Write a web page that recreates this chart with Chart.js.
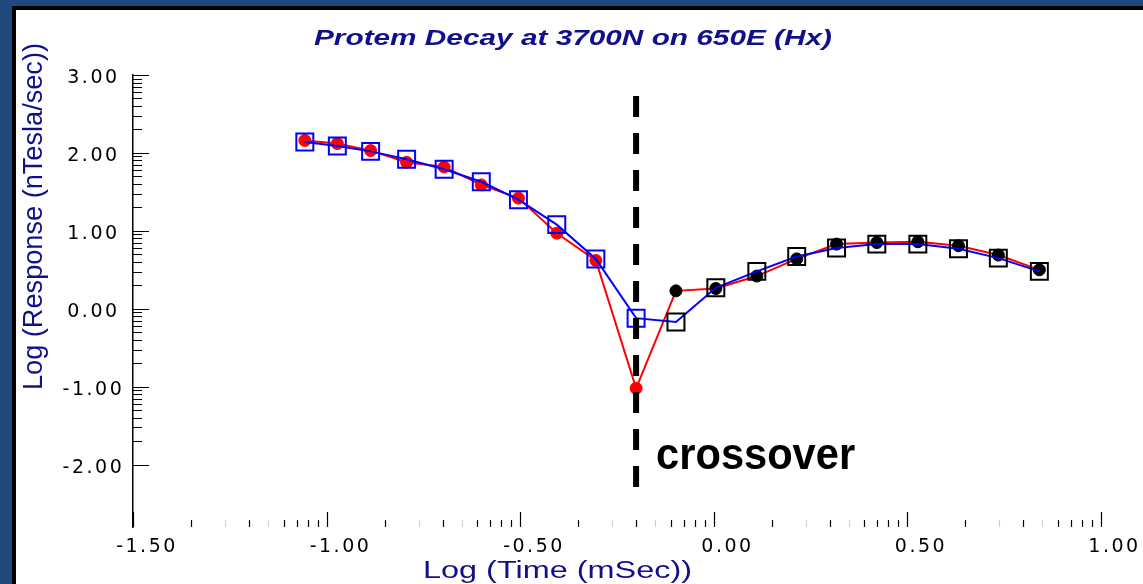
<!DOCTYPE html>
<html>
<head>
<meta charset="utf-8">
<script src="https://cdn.jsdelivr.net/npm/chart.js@4.4.1/dist/chart.umd.min.js"></script>
<style>
html,body{margin:0;padding:0;background:#1f497d;width:1143px;height:584px;overflow:hidden;}
#frame{position:absolute;left:12px;top:6px;width:1131px;height:578px;background:#000;}
#panel{position:absolute;left:4px;top:4px;width:1127px;height:574px;background:#fff;}
canvas{display:block;}
</style>
</head>
<body>
<div id="frame"><div id="panel"><canvas id="c" width="1127" height="574"></canvas></div></div>
<script>
// ---- text ----
const chartTitle = 'Protem Decay at 3700N on 650E (Hx)';
const xAxisTitle = 'Log (Time (mSec))';
const yAxisTitle = 'Log (Response (nTesla/sec))';
const annotationText = 'crossover';

// ---- data ----
const logTime   = [-1.056,-0.972,-0.886,-0.793,-0.696,-0.600,-0.504,-0.405,-0.304,-0.200,-0.097,0.006,0.112,0.215,0.318,0.422,0.528,0.633,0.736,0.842];
const hxSquares = [2.14,2.09,2.02,1.92,1.79,1.63,1.40,1.08,0.64,-0.12,-0.17,0.27,0.48,0.67,0.78,0.83,0.83,0.77,0.65,0.48];
const hxCircles = [2.16,2.12,2.03,1.88,1.82,1.59,1.42,0.97,0.62,-1.02,0.23,0.26,0.42,0.64,0.83,0.85,0.86,0.81,0.69,0.50];
const crossoverX = [-0.2, -0.2];
const crossoverY = [2.73, -2.29];

// ---- ticks ----
const xTickValues = [-1.5, -1.0, -0.5, 0.0, 0.5, 1.0];
const xTickLabels = ['-1.50', '-1.00', '-0.50', '0.00', '0.50', '1.00'];
const yTickValues = [-2, -1, 0, 1, 2, 3];
const yTickLabels = ['-2.00', '-1.00', '0.00', '1.00', '2.00', '3.00'];
const minorFactors = [2, 3, 4, 5, 6, 7, 8, 9];

const toPoints = ys => logTime.map((x, i) => ({ x: x, y: ys[i] }));
const lateTime = ctx => ctx.raw && ctx.raw.x > crossoverX[0];

const decorPlugin = {
  id: 'decor',
  beforeDraw(chart) { chart.ctx.letterSpacing = '2.5px'; },
  afterDraw(chart) {
    const ctx = chart.ctx;
    const xs = chart.scales.x, ys = chart.scales.y;
    const area = chart.chartArea;
    ctx.save();
    ctx.letterSpacing = '0px';
    // y tick marks (inside)
    ctx.lineWidth = 1.2;
    ctx.strokeStyle = '#000';
    ctx.beginPath();
    yTickValues.forEach(v => {
      const p = Math.round(ys.getPixelForValue(v)) + 0.5;
      ctx.moveTo(area.left, p); ctx.lineTo(area.left + 16, p);
    });
    for (let i = 0; i < yTickValues.length - 1; i++) {
      minorFactors.forEach(k => {
        const v = yTickValues[i] + (yTickValues[i + 1] - yTickValues[i]) * Math.log10(k);
        const p = Math.round(ys.getPixelForValue(v)) + 0.5;
        ctx.moveTo(area.left, p); ctx.lineTo(area.left + 9, p);
      });
    }
    ctx.stroke();
    // x tick marks (inside, upward)
    ctx.beginPath();
    xTickValues.forEach(v => {
      const p = Math.round(xs.getPixelForValue(v)) + 0.5;
      ctx.moveTo(p, area.bottom); ctx.lineTo(p, area.bottom - 15);
    });
    ctx.stroke();
    for (let i = 0; i < xTickValues.length - 1; i++) {
      minorFactors.forEach(k => {
        const v = xTickValues[i] + (xTickValues[i + 1] - xTickValues[i]) * Math.log10(k);
        const p = Math.round(xs.getPixelForValue(v)) + 0.5;
        ctx.strokeStyle = (k === 3 || k === 5) ? '#d0d0d0' : '#000';
        ctx.beginPath();
        ctx.moveTo(p, area.bottom); ctx.lineTo(p, area.bottom - 7);
        ctx.stroke();
      });
    }
    // texts
    const drawText = (text, font, color, x, y, width, align, rot) => {
      ctx.save();
      ctx.font = font;
      ctx.fillStyle = color;
      ctx.textAlign = align;
      ctx.textBaseline = 'alphabetic';
      const w = ctx.measureText(text).width;
      ctx.translate(x, y);
      if (rot) ctx.rotate(rot);
      ctx.scale(width / w, 1);
      ctx.fillText(text, 0, 0);
      ctx.restore();
    };
    const navy = '#10108a';
    drawText(chartTitle, 'italic bold 22px "Liberation Sans", Arial, sans-serif', navy, 557, 35, 518, 'center', 0);
    drawText(xAxisTitle, '23px "Liberation Sans", Arial, sans-serif', navy, 541.5, 568, 269, 'center', 0);
    drawText(yAxisTitle, '28px "Liberation Sans", Arial, sans-serif', navy, 25.7, 206.5, 347, 'center', -Math.PI / 2);
    const ax = xs.getPixelForValue(crossoverX[0]);
    drawText(annotationText, 'bold 44px "Liberation Sans", Arial, sans-serif', '#000', ax + 20, 459, 199, 'left', 0);
    ctx.restore();
  }
};

new Chart(document.getElementById('c'), {
  type: 'scatter',
  data: {
    datasets: [
      {
        label: 'crossover',
        data: crossoverX.map((x, i) => ({ x: x, y: crossoverY[i] })),
        showLine: true,
        borderColor: '#000',
        borderWidth: 6,
        borderDash: [21, 16],
        borderCapStyle: 'butt',
        pointRadius: 0,
        order: 0
      },
      {
        label: 'Hx (squares)',
        data: toPoints(hxSquares),
        showLine: true,
        tension: 0,
        borderColor: '#0000ff',
        borderWidth: 2,
        pointStyle: 'rect',
        pointRadius: 12,
        pointBorderWidth: 2,
        pointBackgroundColor: 'rgba(0,0,0,0)',
        pointBorderColor: ctx => lateTime(ctx) ? '#000' : '#0000ff',
        order: 1
      },
      {
        label: 'Hx (circles)',
        data: toPoints(hxCircles),
        showLine: true,
        tension: 0,
        borderColor: '#ff0000',
        borderWidth: 2,
        pointStyle: 'circle',
        pointRadius: 6,
        pointBorderWidth: 1,
        pointBackgroundColor: ctx => lateTime(ctx) ? '#000' : '#ff0000',
        pointBorderColor: ctx => lateTime(ctx) ? '#000' : '#ff0000',
        order: 2
      }
    ]
  },
  options: {
    responsive: false,
    animation: false,
    events: [],
    layout: { padding: { left: 0, right: 42.5, top: 65, bottom: 0 } },
    plugins: {
      legend: { display: false },
      tooltip: { enabled: false },
      title: { display: false }
    },
    scales: {
      x: {
        type: 'linear',
        min: -1.5,
        max: 1.0,
        afterBuildTicks: s => { s.ticks = xTickValues.map(v => ({ value: v })); },
        afterFit: s => { s.height = 57; },
        grid: { display: false, drawTicks: false },
        border: { display: false },
        ticks: {
          font: { family: 'DejaVu Sans', size: 19 },
          color: '#000',
          padding: 9,
          labelOffset: 14,
          maxRotation: 0,
          autoSkip: false,
          callback: (v, i) => xTickLabels[i]
        }
      },
      y: {
        type: 'linear',
        min: -2.8,
        max: 3.0,
        afterBuildTicks: s => { s.ticks = yTickValues.map(v => ({ value: v })); },
        afterFit: s => { s.width = 117; },
        grid: { display: false, drawTicks: false },
        border: { display: true, color: '#000', width: 1.5 },
        ticks: {
          font: { family: 'DejaVu Sans', size: 19 },
          color: '#000',
          padding: 15,
          crossAlign: 'center',
          labelOffset: 3,
          autoSkip: false,
          callback: (v, i) => yTickLabels[i]
        }
      }
    }
  },
  plugins: [decorPlugin]
});
</script>
</body>
</html>
